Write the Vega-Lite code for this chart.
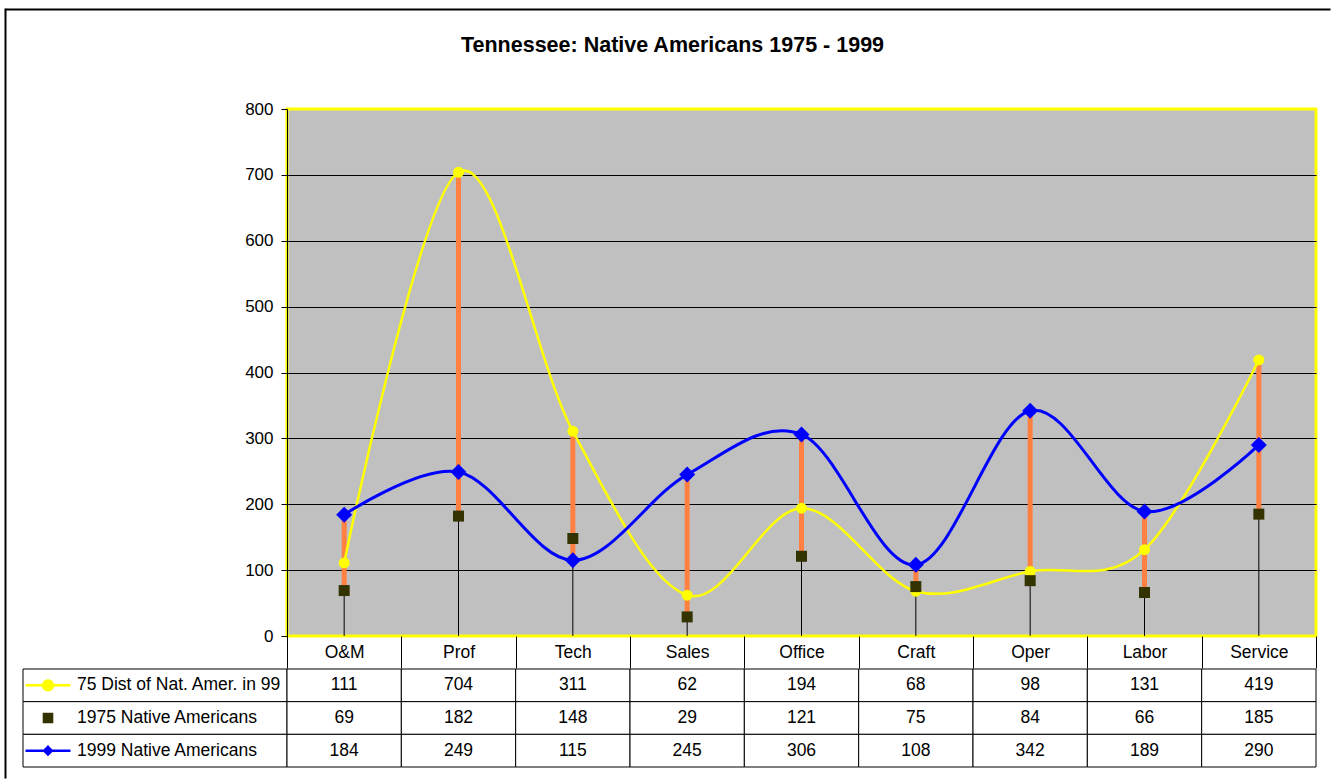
{
  "$schema": "https://vega.github.io/schema/vega-lite/v6.json",
  "background": "white",
  "padding": {"left": 5, "top": 9, "right": 0, "bottom": 0},
  "title": {"text": "Tennessee: Native Americans 1975 - 1999", "fontSize": 21.5, "fontWeight": "bold", "font": "Liberation Sans", "color": "black", "anchor": "middle", "frame": "bounds", "offset": -47, "dx": -4},
  "datasets": {
    "d": [
      {"cat": "O&M", "series": "75 Dist of Nat. Amer. in 99", "value": 111},
      {"cat": "Prof", "series": "75 Dist of Nat. Amer. in 99", "value": 704},
      {"cat": "Tech", "series": "75 Dist of Nat. Amer. in 99", "value": 311},
      {"cat": "Sales", "series": "75 Dist of Nat. Amer. in 99", "value": 62},
      {"cat": "Office", "series": "75 Dist of Nat. Amer. in 99", "value": 194},
      {"cat": "Craft", "series": "75 Dist of Nat. Amer. in 99", "value": 68},
      {"cat": "Oper", "series": "75 Dist of Nat. Amer. in 99", "value": 98},
      {"cat": "Labor", "series": "75 Dist of Nat. Amer. in 99", "value": 131},
      {"cat": "Service", "series": "75 Dist of Nat. Amer. in 99", "value": 419},
      {"cat": "O&M", "series": "1975 Native Americans", "value": 69},
      {"cat": "Prof", "series": "1975 Native Americans", "value": 182},
      {"cat": "Tech", "series": "1975 Native Americans", "value": 148},
      {"cat": "Sales", "series": "1975 Native Americans", "value": 29},
      {"cat": "Office", "series": "1975 Native Americans", "value": 121},
      {"cat": "Craft", "series": "1975 Native Americans", "value": 75},
      {"cat": "Oper", "series": "1975 Native Americans", "value": 84},
      {"cat": "Labor", "series": "1975 Native Americans", "value": 66},
      {"cat": "Service", "series": "1975 Native Americans", "value": 185},
      {"cat": "O&M", "series": "1999 Native Americans", "value": 184},
      {"cat": "Prof", "series": "1999 Native Americans", "value": 249},
      {"cat": "Tech", "series": "1999 Native Americans", "value": 115},
      {"cat": "Sales", "series": "1999 Native Americans", "value": 245},
      {"cat": "Office", "series": "1999 Native Americans", "value": 306},
      {"cat": "Craft", "series": "1999 Native Americans", "value": 108},
      {"cat": "Oper", "series": "1999 Native Americans", "value": 342},
      {"cat": "Labor", "series": "1999 Native Americans", "value": 189},
      {"cat": "Service", "series": "1999 Native Americans", "value": 290}
    ]
  },
  "columns": 2,
  "spacing": {"row": 33, "column": 0},
  "bounds": "flush",
  "align": "each",
  "concat": [
    {
      "width": 264,
      "height": 527,
      "data": {"values": [{"blank": ""}]},
      "mark": {"type": "text", "text": ""},
      "encoding": {
        "x": {"datum": 0, "type": "quantitative", "scale": {"domain": [0, 1], "range": [-18, 1307]},
          "axis": {"orient": "top", "offset": 100, "domain": true, "domainColor": "black", "domainWidth": 2, "ticks": false, "labels": false, "grid": false, "title": null}},
        "y": {"datum": 0, "type": "quantitative", "scale": {"domain": [0, 1], "range": [669, -101]},
          "axis": {"orient": "left", "offset": 18, "domain": true, "domainColor": "black", "domainWidth": 2, "ticks": false, "labels": false, "grid": false, "title": null}}
      }
    },
    {
      "width": 1029,
      "height": 527,
      "view": {"fill": "#C0C0C0", "stroke": "#FFFF00", "strokeWidth": 3},
      "data": {"name": "d"},
      "encoding": {
        "x": {
          "field": "cat", "type": "nominal",
          "sort": ["O&M", "Prof", "Tech", "Sales", "Office", "Craft", "Oper", "Labor", "Service"],
          "scale": {"paddingInner": 0, "paddingOuter": 0},
          "axis": {"title": null, "domain": false, "tickBand": "extent", "tickSize": 32, "tickColor": "black", "tickWidth": 1, "labelFontSize": 17.5, "labelColor": "black", "labelPadding": -25, "labelAngle": 0, "grid": false}
        }
      },
      "layer": [
        {
          "mark": {"type": "rule", "color": "black", "strokeWidth": 1},
          "encoding": {
            "y": {
              "aggregate": "min", "field": "value", "type": "quantitative",
              "scale": {"domain": [0, 800], "nice": false},
              "axis": {"title": null, "values": [0, 100, 200, 300, 400, 500, 600, 700, 800], "grid": true,
                "gridColor": {"condition": {"test": "datum.value == 0 || datum.value == 800", "value": "transparent"}, "value": "black"},
                "gridWidth": 1, "domainColor": "black", "tickColor": "black", "tickSize": 6, "labelFontSize": 17, "labelColor": "black", "labelPadding": 8}
            },
            "y2": {"datum": 0}
          }
        },
        {
          "mark": {"type": "rule", "color": "#FF8040", "strokeWidth": 5},
          "encoding": {
            "y": {"aggregate": "min", "field": "value", "type": "quantitative"},
            "y2": {"aggregate": "max", "field": "value"}
          }
        },
        {
          "transform": [{"filter": "datum.series == '75 Dist of Nat. Amer. in 99'"}],
          "mark": {"type": "line", "color": "#FFFF00", "strokeWidth": 2.5, "interpolate": "cardinal", "tension": 0},
          "encoding": {"y": {"field": "value", "type": "quantitative"}}
        },
        {
          "transform": [{"filter": "datum.series == '75 Dist of Nat. Amer. in 99'"}],
          "mark": {"type": "point", "shape": "circle", "filled": true, "color": "#FFFF00", "size": 121, "opacity": 1},
          "encoding": {"y": {"field": "value", "type": "quantitative"}}
        },
        {
          "transform": [{"filter": "datum.series == '1999 Native Americans'"}],
          "mark": {"type": "line", "color": "#0000FF", "strokeWidth": 3, "interpolate": "cardinal", "tension": 0},
          "encoding": {"y": {"field": "value", "type": "quantitative"}}
        },
        {
          "transform": [{"filter": "datum.series == '1999 Native Americans'"}],
          "mark": {"type": "point", "shape": "diamond", "filled": true, "color": "#0000FF", "size": 256, "opacity": 1},
          "encoding": {"y": {"field": "value", "type": "quantitative"}}
        },
        {
          "transform": [{"filter": "datum.series == '1975 Native Americans'"}],
          "mark": {"type": "point", "shape": "square", "filled": true, "color": "#333300", "size": 121, "opacity": 1},
          "encoding": {"y": {"field": "value", "type": "quantitative"}}
        }
      ]
    },
    {
      "width": 264,
      "height": 98,
      "data": {"name": "d"},
      "transform": [{"filter": "datum.cat == 'O&M'"}],
      "encoding": {
        "y": {"field": "series", "type": "nominal",
          "sort": ["75 Dist of Nat. Amer. in 99", "1975 Native Americans", "1999 Native Americans"],
          "scale": {"paddingInner": 0, "paddingOuter": 0}, "axis": null}
      },
      "layer": [
        {"mark": {"type": "rect", "fill": "white", "stroke": "black", "strokeWidth": 1}},
        {
          "mark": {"type": "point", "filled": true, "size": 2025, "strokeWidth": 2.5, "opacity": 1, "xOffset": -107},
          "encoding": {
            "shape": {"field": "series", "type": "nominal", "legend": null,
              "scale": {"domain": ["75 Dist of Nat. Amer. in 99", "1975 Native Americans", "1999 Native Americans"],
                "range": ["M-1,0L1,0M-0.22,0A0.22,0.22,0,1,1,0.22,0A0.22,0.22,0,1,1,-0.22,0Z", "M-0.18,-0.18L0.18,-0.18L0.18,0.18L-0.18,0.18Z", "M-1,0L1,0M0,-0.17L0.17,0L0,0.17L-0.17,0Z"]}},
            "fill": {"field": "series", "type": "nominal", "legend": null,
              "scale": {"domain": ["75 Dist of Nat. Amer. in 99", "1975 Native Americans", "1999 Native Americans"], "range": ["#FFFF00", "#333300", "#0000FF"]}},
            "stroke": {"field": "series", "type": "nominal", "legend": null,
              "scale": {"domain": ["75 Dist of Nat. Amer. in 99", "1975 Native Americans", "1999 Native Americans"], "range": ["#FFFF00", "#333300", "#0000FF"]}}
          }
        },
        {
          "mark": {"type": "text", "align": "left", "dx": -78, "fontSize": 17.5, "font": "Liberation Sans", "color": "black"},
          "encoding": {"text": {"field": "series", "type": "nominal"}}
        }
      ]
    },
    {
      "width": 1029,
      "height": 98,
      "data": {"name": "d"},
      "encoding": {
        "x": {"field": "cat", "type": "nominal",
          "sort": ["O&M", "Prof", "Tech", "Sales", "Office", "Craft", "Oper", "Labor", "Service"],
          "scale": {"paddingInner": 0, "paddingOuter": 0}, "axis": null},
        "y": {"field": "series", "type": "nominal",
          "sort": ["75 Dist of Nat. Amer. in 99", "1975 Native Americans", "1999 Native Americans"],
          "scale": {"paddingInner": 0, "paddingOuter": 0}, "axis": null}
      },
      "layer": [
        {"mark": {"type": "rect", "fill": "white", "stroke": "black", "strokeWidth": 1}},
        {
          "mark": {"type": "text", "fontSize": 17.5, "font": "Liberation Sans", "color": "black"},
          "encoding": {"text": {"field": "value", "type": "quantitative"}}
        }
      ]
    }
  ],
  "config": {
    "view": {"stroke": null},
    "font": "Liberation Sans",
    "axis": {"labelFont": "Liberation Sans"}
  }
}
